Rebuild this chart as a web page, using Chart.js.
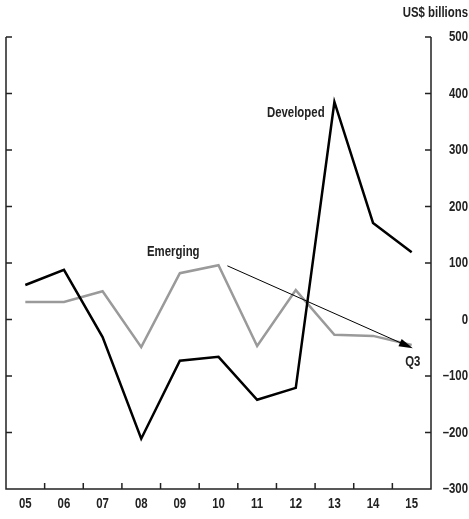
<!DOCTYPE html>
<html>
<head>
<meta charset="utf-8">
<script src="https://cdn.jsdelivr.net/npm/chart.js@4"></script>
<style>
  html, body { margin: 0; padding: 0; background: #fff; }
  #wrap { width: 469px; height: 519px; }
</style>
</head>
<body>
<div id="wrap"><canvas id="myChart" width="469" height="519"></canvas></div>
<script>
// data
const years = ['05', '06', '07', '08', '09', '10', '11', '12', '13', '14', '15'];
const developed = [61, 88, -31, -211, -73, -66, -142, -121, 385, 171, 119];
const emerging = [31, 31, 50, -49, 82, 96, -47, 52, -27, -29, -45];
const yTicks = [500, 400, 300, 200, 100, 0, -100, -200, -300];

const FONT = '"Liberation Sans", Arial, sans-serif';
const ctx = document.getElementById('myChart').getContext('2d');

// condensed-looking text: squeeze horizontally
function narrowText(c, text, x, y, align, weight) {
    const sx = 0.76;
    c.save();
    c.font = (weight || 'bold') + ' 15px ' + FONT;
    c.textAlign = align;
    c.textBaseline = 'middle';
    c.translate(x, y);
    c.scale(sx, 1);
    c.fillText(text, 0, 0);
    c.restore();
}

// inward ticks, axis lines and labels
const decorPlugin = {
    id: 'decor',
    afterDraw(chart) {
        const c = chart.ctx;
        const a = chart.chartArea;
        const xs = chart.scales.x;
        const ys = chart.scales.y;
        c.save();
        c.strokeStyle = '#222';
        c.lineWidth = 1.5;
        c.beginPath();
        c.moveTo(a.left, a.top);
        c.lineTo(a.left, a.bottom);
        c.lineTo(a.right, a.bottom);
        c.lineTo(a.right, a.top);
        yTicks.forEach(v => {
            const y = ys.getPixelForValue(v);
            c.moveTo(a.left, y);
            c.lineTo(a.left + 6, y);
            c.moveTo(a.right, y);
            c.lineTo(a.right - 6, y);
        });
        for (let i = 0; i < years.length - 1; i++) {
            const x = (xs.getPixelForValue(i) + xs.getPixelForValue(i + 1)) / 2;
            c.moveTo(x, a.bottom);
            c.lineTo(x, a.bottom - 6);
        }
        c.stroke();

        // arrow Emerging -> Q3
        const x0 = xs.getPixelForValue(5.23), y0 = ys.getPixelForValue(95);
        const x1 = xs.getPixelForValue(10.03), y1 = ys.getPixelForValue(-51);
        const ang = Math.atan2(y1 - y0, x1 - x0);
        c.strokeStyle = '#000';
        c.lineWidth = 1;
        c.beginPath();
        c.moveTo(x0, y0);
        c.lineTo(x1 - 8 * Math.cos(ang), y1 - 8 * Math.sin(ang));
        c.stroke();
        c.fillStyle = '#000';
        c.beginPath();
        c.moveTo(x1, y1);
        c.lineTo(x1 - 14 * Math.cos(ang) + 4 * Math.sin(ang), y1 - 14 * Math.sin(ang) - 4 * Math.cos(ang));
        c.lineTo(x1 - 14 * Math.cos(ang) - 4 * Math.sin(ang), y1 - 14 * Math.sin(ang) + 4 * Math.cos(ang));
        c.closePath();
        c.fill();

        // labels
        c.fillStyle = '#222';
        narrowText(c, 'Developed', xs.getPixelForValue(7.0), ys.getPixelForValue(365), 'center');
        narrowText(c, 'Emerging', xs.getPixelForValue(3.83), ys.getPixelForValue(119), 'center');
        narrowText(c, 'Q3', xs.getPixelForValue(10.03), ys.getPixelForValue(-75), 'center', '600');
        narrowText(c, 'US$ billions', 468, 13, 'right');

        // tick labels
        yTicks.forEach(v => {
            const t = v < 0 ? '\u2013' + Math.abs(v) : String(v);
            narrowText(c, t, 468, ys.getPixelForValue(v), 'right');
        });
        years.forEach((yr, i) => {
            narrowText(c, yr, xs.getPixelForValue(i), a.bottom + 15, 'center');
        });
        c.restore();
    }
};

new Chart(ctx, {
    type: 'line',
    data: {
        labels: years,
        datasets: [{
            label: 'Developed',
            data: developed,
            borderColor: '#000',
            borderWidth: 2.5,
            pointRadius: 0,
            tension: 0
        }, {
            label: 'Emerging',
            data: emerging,
            borderColor: '#9a9a9a',
            borderWidth: 2.5,
            pointRadius: 0,
            tension: 0
        }]
    },
    options: {
        responsive: false,
        animation: false,
        layout: { padding: { top: 37, left: 6, right: 1 } },
        plugins: {
            legend: { display: false },
            tooltip: { enabled: false }
        },
        scales: {
            x: {
                offset: true,
                grid: { display: false },
                border: { display: false },
                ticks: { display: false },
                afterFit(scale) { scale.height = 30; }
            },
            y: {
                position: 'right',
                min: -300,
                max: 500,
                grid: { display: false },
                border: { display: false },
                afterBuildTicks(scale) {
                    scale.ticks = yTicks.map(v => ({ value: v }));
                },
                ticks: { display: false },
                afterFit(scale) { scale.width = 37; }
            }
        }
    },
    plugins: [decorPlugin]
});
</script>
</body>
</html>
